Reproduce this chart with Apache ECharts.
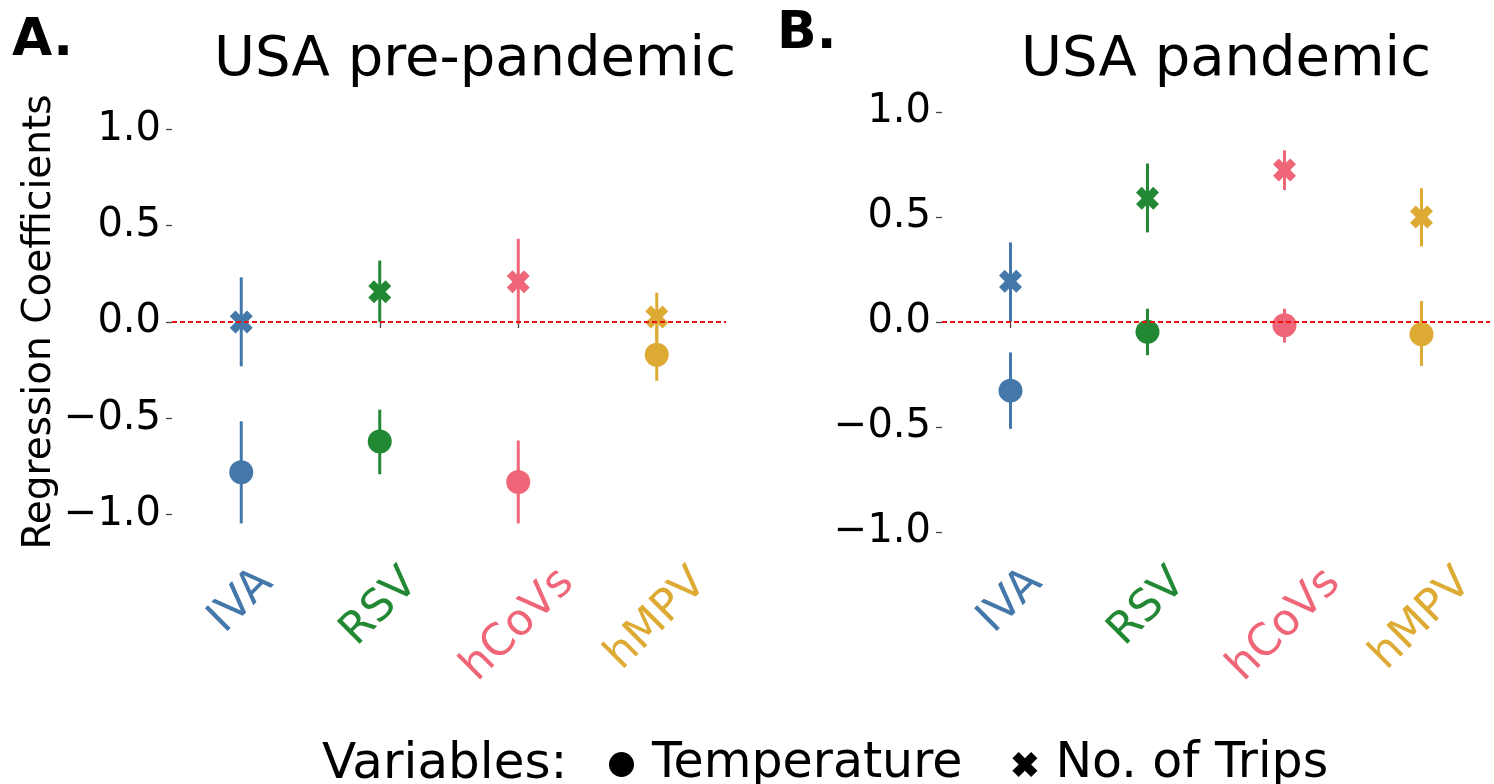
<!DOCTYPE html>
<html>
<head>
<meta charset="utf-8">
<script src="https://cdn.jsdelivr.net/npm/echarts@6/dist/echarts.min.js"></script>
<style>
  html, body { margin: 0; padding: 0; background: #ffffff; }
  #chart { width: 1494px; height: 784px; }
</style>
</head>
<body>
<div id="chart"></div>
<script>
// Viruses on the x axis and their colours
const categories = ['IVA', 'RSV', 'hCoVs', 'hMPV'];
const virusColors = ['#4477AA', '#228833', '#EE6677', '#DDAA33'];
const yTicks = [-1.0, -0.5, 0.0, 0.5, 1.0];

// A. USA pre-pandemic: coefficient estimates with 95% interval bounds
const preTemp   = [-0.78, -0.62, -0.83, -0.17];
const preTempLo = [-1.045, -0.79, -1.045, -0.305];
const preTempHi = [-0.515, -0.455, -0.615, -0.03];
const preTrips   = [0.0, 0.157, 0.209, 0.026];
const preTripsLo = [-0.23, 0.0, -0.01, -0.10];
const preTripsHi = [0.232, 0.319, 0.432, 0.152];

// B. USA pandemic
const panTemp   = [-0.327, -0.047, -0.016, -0.058];
const panTempLo = [-0.509, -0.158, -0.098, -0.209];
const panTempHi = [-0.145, 0.063, 0.063, 0.10];
const panTrips   = [0.194, 0.589, 0.724, 0.50];
const panTripsLo = [0.0, 0.427, 0.629, 0.36];
const panTripsHi = [0.379, 0.755, 0.818, 0.637];

const FONT = '"DejaVu Sans", "Liberation Sans", sans-serif';
const LABEL_SIZE = 44;
const X_SYMBOL = 'path://M-1,-2L0,-1L1,-2L2,-1L1,0L2,1L1,2L0,1L-1,2L-2,1L-1,0L-2,-1Z';

const measureCtx = document.createElement('canvas').getContext('2d');
function textWidth(text, size) {
  measureCtx.font = size + 'px ' + FONT;
  return measureCtx.measureText(text).width;
}

const fmtTick = v => v.toFixed(1).replace('-', '\u2212');

function xAxisFor(idx) {
  return {
    gridIndex: idx, type: 'category', data: categories, boundaryGap: true,
    axisLine: { show: false },
    axisTick: { show: true, alignWithLabel: true, length: 6, lineStyle: { color: '#444', width: 1.3 } },
    axisLabel: { show: false },
    splitLine: { show: false }
  };
}

function yAxisFor(idx, min, max, withName) {
  const ax = {
    gridIndex: idx, type: 'value', min: min, max: max,
    axisLine: { show: false },
    axisTick: { show: true, length: 6, customValues: yTicks, lineStyle: { color: '#444', width: 1.3 } },
    axisLabel: { customValues: yTicks, formatter: fmtTick, fontSize: 40, color: '#000', fontFamily: FONT, margin: 11 },
    splitLine: { show: false }
  };
  if (withName) {
    ax.name = 'Regression Coefficients';
    ax.nameLocation = 'middle';
    ax.nameGap = 113;
    ax.nameTextStyle = { fontSize: 39, color: '#000', fontFamily: FONT };
  }
  return ax;
}

// Vertical interval lines, one per virus
function errorBars(name, idx, lo, hi) {
  return {
    type: 'custom', name: name, xAxisIndex: idx, yAxisIndex: idx, silent: true, z: 2,
    data: lo.map((v, i) => [i, v, hi[i]]),
    encode: { x: 0, y: [1, 2] },
    renderItem(params, api) {
      const i = api.value(0);
      const a = api.coord([i, api.value(1)]);
      const b = api.coord([i, api.value(2)]);
      return {
        type: 'line',
        shape: { x1: a[0], y1: a[1], x2: b[0], y2: b[1] },
        style: { stroke: virusColors[i], lineWidth: 3 }
      };
    }
  };
}

function points(name, idx, values, symbol, size, withZeroLine) {
  const s = {
    type: 'scatter', name: name, xAxisIndex: idx, yAxisIndex: idx, z: 3,
    symbol: symbol, symbolSize: size,
    data: values.map((v, i) => [i, v]),
    itemStyle: { color: p => virusColors[p.dataIndex], opacity: 1 },
    emphasis: { disabled: true }
  };
  if (withZeroLine) {
    s.markLine = {
      silent: true, symbol: 'none', label: { show: false }, animation: false,
      lineStyle: { color: '#f01010', type: [5, 3], width: 2 },
      data: [{ yAxis: 0 }]
    };
  }
  return s;
}

// Rotated, coloured virus names centred under each tick
function categoryLabels(idx) {
  return {
    type: 'custom', xAxisIndex: idx, yAxisIndex: idx, silent: true, clip: false, z: 5,
    data: categories.map((c, i) => [i]),
    encode: { x: 0 },
    renderItem(params, api) {
      const i = api.value(0);
      const cs = params.coordSys;
      const x = api.coord([i, 0])[0];
      const bottom = cs.y + cs.height;
      const w = textWidth(categories[i], LABEL_SIZE);
      const h = LABEL_SIZE * 1.164;
      const half = (w + h) * Math.SQRT1_2 / 2;
      return {
        type: 'text', x: x, y: bottom + 24 + half, rotation: Math.PI / 4,
        style: {
          text: categories[i], fill: virusColors[i], fontSize: LABEL_SIZE, fontFamily: FONT,
          align: 'center', verticalAlign: 'middle'
        }
      };
    }
  };
}

const chart = echarts.init(document.getElementById('chart'), null, { renderer: 'canvas' });
chart.setOption({
  animation: false,
  backgroundColor: '#ffffff',
  grid: [
    { left: 172, top: 110, width: 554, height: 424 },
    { left: 942, top: 110, width: 548, height: 424 }
  ],
  xAxis: [xAxisFor(0), xAxisFor(1)],
  yAxis: [yAxisFor(0, -1.1, 1.1, true), yAxisFor(1, -1.01, 1.01, false)],
  legend: {
    left: 609, top: 740, padding: 0, itemWidth: 25, itemHeight: 25, itemGap: 50,
    selectedMode: false,
    data: [
      { name: 'Temperature', icon: 'circle', itemStyle: { color: '#000' } },
      { name: 'No. of Trips', icon: X_SYMBOL, itemStyle: { color: '#000' } }
    ],
    textStyle: { fontSize: 49, color: '#000', fontFamily: FONT, padding: [0, 0, 0, 13] }
  },
  graphic: [
    { type: 'text', x: 12, y: 41, style: { text: 'A.', fontSize: 52, fontWeight: 'bold', fontFamily: FONT, fill: '#000', align: 'left', verticalAlign: 'middle' } },
    { type: 'text', x: 777, y: 34, style: { text: 'B.', fontSize: 52, fontWeight: 'bold', fontFamily: FONT, fill: '#000', align: 'left', verticalAlign: 'middle' } },
    { type: 'text', x: 475, y: 60, style: { text: 'USA pre-pandemic', fontSize: 56, fontFamily: FONT, fill: '#000', align: 'center', verticalAlign: 'middle' } },
    { type: 'text', x: 1226, y: 60, style: { text: 'USA pandemic', fontSize: 56, fontFamily: FONT, fill: '#000', align: 'center', verticalAlign: 'middle' } },
    { type: 'text', x: 322, y: 765, style: { text: 'Variables:', fontSize: 50, fontFamily: FONT, fill: '#000', align: 'left', verticalAlign: 'middle' } }
  ],
  series: [
    errorBars('Temperature', 0, preTempLo, preTempHi),
    errorBars('No. of Trips', 0, preTripsLo, preTripsHi),
    points('Temperature', 0, preTemp, 'circle', 24, true),
    points('No. of Trips', 0, preTrips, X_SYMBOL, 23, false),
    categoryLabels(0),
    errorBars('Temperature', 1, panTempLo, panTempHi),
    errorBars('No. of Trips', 1, panTripsLo, panTripsHi),
    points('Temperature', 1, panTemp, 'circle', 24, true),
    points('No. of Trips', 1, panTrips, X_SYMBOL, 23, false),
    categoryLabels(1)
  ]
});
</script>
</body>
</html>
